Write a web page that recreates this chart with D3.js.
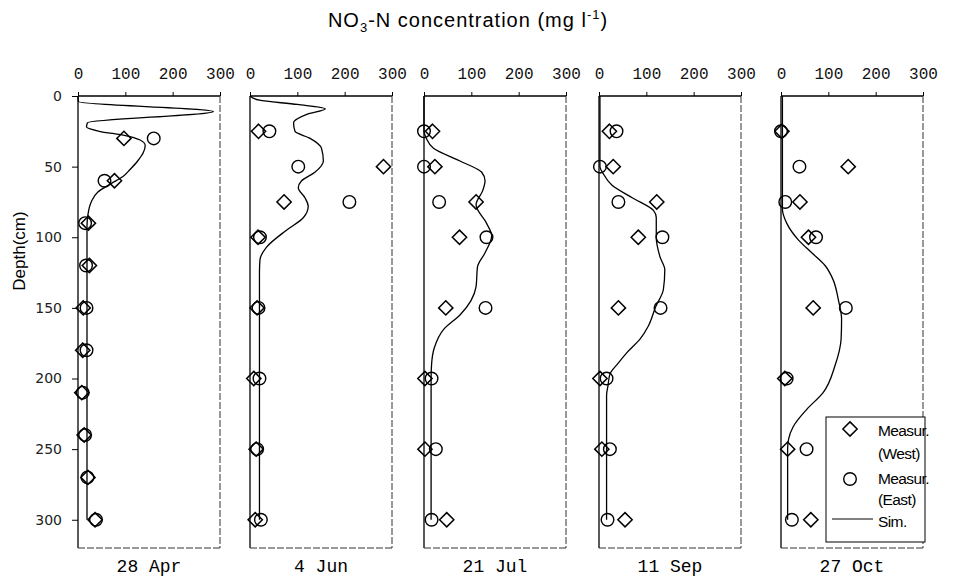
<!DOCTYPE html>
<html>
  <head>
    <meta charset="utf-8">
    <title>NO3-N profiles</title>
    <script src="https://d3js.org/d3.v7.min.js"></script>
    <style>
      body { margin: 0; background: #fff; }
      svg { display: block; }
    </style>
  </head>
  <body>
  <svg width="961" height="583"></svg>
  <script>
    // sampling dates (one panel each)
    var dates = ["28 Apr", "4 Jun", "21 Jul", "11 Sep", "27 Oct"];

    // measurement depths (cm)
    var depthApr = [30, 60, 90, 120, 150, 180, 210, 240, 270, 300];
    var depthLater = [25, 50, 75, 100, 150, 200, 250, 300];

    // measured NO3-N, west plot
    var westApr = [97, 77, 22, 24, 11, 10, 8, 13, 21, 36];
    var westJun = [18, 282, 72, 17, 15, 8, 13, 11];
    var westJul = [18, 23, 110, 75, 46, 2, 2, 48];
    var westSep = [22, 30, 122, 83, 41, 2, 6, 55];
    var westOct = [2, 142, 40, 58, 68, 8, 14, 63];

    // measured NO3-N, east plot
    var eastApr = [160, 56, 15, 17, 18, 18, 10, 15, 20, 38];
    var eastJun = [41, 102, 210, 21, 18, 20, 15, 23];
    var eastJul = [0, 0, 32, 132, 130, 16, 25, 16];
    var eastSep = [37, 2, 41, 134, 130, 16, 23, 18];
    var eastOct = [0, 39, 9, 74, 137, 12, 54, 23];

    // simulated profiles [depth, concentration]
    var simApr = [[0,0],[4,1],[11,286],[19,20],[22,18],[25,45],[28,100],[31,130],[35,142],[40,138],[46,126],[52,110],[57,95],[62,70],[68,42],[75,28],[84,21],[92,19],[300,19]];
    var simJun = [[0,0],[3,20],[6,100],[9,159],[13,120],[19,92],[25,95],[30,127],[37,151],[46,155],[54,137],[60,109],[65,102],[72,116],[78,123],[86,113],[95,77],[107,35],[116,21],[125,20],[300,20]];
    var simJul = [[0,0],[25,0],[30,5],[37,20],[46,76],[54,122],[60,129],[67,124],[77,110],[90,132],[99,143],[111,129],[121,113],[135,110],[145,99],[155,76],[165,42],[178,22],[190,16],[200,15],[300,15]];
    var simSep = [[0,2],[50,2],[55,9],[63,27],[72,70],[81,115],[86,121],[100,121],[114,129],[123,139],[137,136],[149,120],[163,104],[172,87],[182,58],[189,41],[197,23],[205,19],[212,16],[300,16]];
    var simOct = [[0,3],[80,3],[90,12],[102,37],[111,65],[120,93],[130,110],[144,121],[158,128],[172,127],[191,114],[210,89],[222,54],[234,26],[243,16],[250,14],[300,14]];

    var xTicks = [0, 100, 200, 300];
    var yTicks = [0, 50, 100, 150, 200, 250, 300];

    var panels = [
      { date: dates[0], depth: depthApr, west: westApr, east: eastApr, sim: simApr },
      { date: dates[1], depth: depthLater, west: westJun, east: eastJun, sim: simJun },
      { date: dates[2], depth: depthLater, west: westJul, east: eastJul, sim: simJul },
      { date: dates[3], depth: depthLater, west: westSep, east: eastSep, sim: simSep },
      { date: dates[4], depth: depthLater, west: westOct, east: eastOct, sim: simOct }
    ];

    var svg = d3.select("svg");
    var lefts = [78, 250, 424, 599, 781];
    var pw = 142;
    var yTop = 96, yBot = 548;

    var y = d3.scaleLinear().domain([0, 320]).range([yTop, yBot]);

    var diamond = d3.symbol().type(d3.symbolDiamond2).size(130);

    panels.forEach(function(p, i) {
      var x = d3.scaleLinear().domain([0, 300]).range([lefts[i], lefts[i] + pw]);
      var g = svg.append("g");

      // frame: solid top/left, faint right/bottom
      g.append("line").attr("x1", x(0)).attr("x2", x(300)).attr("y1", yTop).attr("y2", yTop)
        .attr("stroke", "#000").attr("stroke-width", 1.5);
      g.append("line").attr("x1", x(0)).attr("x2", x(0)).attr("y1", yTop).attr("y2", yBot)
        .attr("stroke", "#000").attr("stroke-width", 1.3);
      g.append("line").attr("x1", x(300)).attr("x2", x(300)).attr("y1", yTop).attr("y2", yBot)
        .attr("stroke", "#333").attr("stroke-width", 1).attr("stroke-dasharray", "7,2");
      g.append("line").attr("x1", x(0)).attr("x2", x(300)).attr("y1", yBot).attr("y2", yBot)
        .attr("stroke", "#333").attr("stroke-width", 1).attr("stroke-dasharray", "7,2");

      // top axis
      var ax = g.append("g")
        .attr("transform", "translate(0," + yTop + ")")
        .call(d3.axisTop(x).tickValues(xTicks).tickSize(4).tickPadding(13));
      ax.select(".domain").remove();
      ax.selectAll("text")
        .attr("font-family", "'Liberation Mono', monospace")
        .attr("font-size", 16).attr("fill", "#111");

      // simulated line
      var line = d3.line()
        .x(function(d) { return x(d[1]); })
        .y(function(d) { return y(d[0]); })
        .curve(d3.curveMonotoneY);
      g.append("path").datum(p.sim)
        .attr("d", line)
        .attr("fill", "none").attr("stroke", "#000").attr("stroke-width", 1.3);

      // measured west (diamonds)
      g.selectAll(".west").data(p.depth).enter().append("path")
        .attr("class", "west")
        .attr("d", diamond)
        .attr("transform", function(d, j) { return "translate(" + x(p.west[j]) + "," + y(d) + ")"; })
        .attr("fill", "none").attr("stroke", "#000").attr("stroke-width", 1.5);

      // measured east (circles)
      g.selectAll(".east").data(p.depth).enter().append("circle")
        .attr("class", "east")
        .attr("cx", function(d, j) { return x(p.east[j]); })
        .attr("cy", function(d) { return y(d); })
        .attr("r", 6.3)
        .attr("fill", "none").attr("stroke", "#000").attr("stroke-width", 1.4);

      // date label
      g.append("text")
        .attr("x", x(150)).attr("y", 572)
        .attr("text-anchor", "middle")
        .attr("font-family", "'Liberation Mono', monospace")
        .attr("font-size", 18)
        .text(p.date);
    });

    // depth axis on first panel
    var ay = svg.append("g")
      .attr("transform", "translate(" + lefts[0] + ",0)")
      .call(d3.axisLeft(y).tickValues(yTicks).tickSize(6).tickPadding(10));
    ay.select(".domain").remove();
    ay.selectAll("text")
      .attr("font-family", "'DejaVu Sans', sans-serif")
      .attr("font-size", 14).attr("fill", "#222");

    svg.append("text")
      .attr("transform", "translate(25,251) rotate(-90)")
      .attr("text-anchor", "middle")
      .attr("font-family", "'Liberation Sans', Arial, sans-serif")
      .attr("font-size", 17)
      .text("Depth(cm)");

    // title
    var title = svg.append("text")
      .attr("x", 468).attr("y", 27)
      .attr("text-anchor", "middle")
      .attr("font-family", "'Liberation Sans', Arial, sans-serif")
      .attr("font-size", 20)
      .attr("letter-spacing", 1);
    title.append("tspan").text("NO");
    title.append("tspan").attr("font-size", 13).attr("dy", 5).text("3");
    title.append("tspan").attr("dy", -5).text("-N concentration (mg l");
    title.append("tspan").attr("font-size", 13).attr("dy", -8).text("-1");
    title.append("tspan").attr("dy", 8).text(")");

    // legend
    var lg = svg.append("g").attr("font-family", "'Liberation Sans', Arial, sans-serif")
      .attr("font-size", 15.5);
    lg.append("rect").attr("x", 826).attr("y", 417).attr("width", 99).attr("height", 125)
      .attr("fill", "#fff").attr("stroke", "#000").attr("stroke-width", 1);
    lg.append("path").attr("d", diamond).attr("transform", "translate(850,429)")
      .attr("fill", "none").attr("stroke", "#000").attr("stroke-width", 1.5);
    lg.append("circle").attr("cx", 850).attr("cy", 479).attr("r", 6.3)
      .attr("fill", "none").attr("stroke", "#000").attr("stroke-width", 1.4);
    lg.append("line").attr("x1", 832).attr("x2", 873).attr("y1", 519).attr("y2", 519)
      .attr("stroke", "#000").attr("stroke-width", 1);
    [["Measur.", 436], ["(West)", 459], ["Measur.", 484], ["(East)", 505], ["Sim.", 527]].forEach(function(t) {
      lg.append("text").attr("x", 878).attr("y", t[1]).attr("letter-spacing", -0.6).text(t[0]);
    });
  </script>
  </body>
</html>
